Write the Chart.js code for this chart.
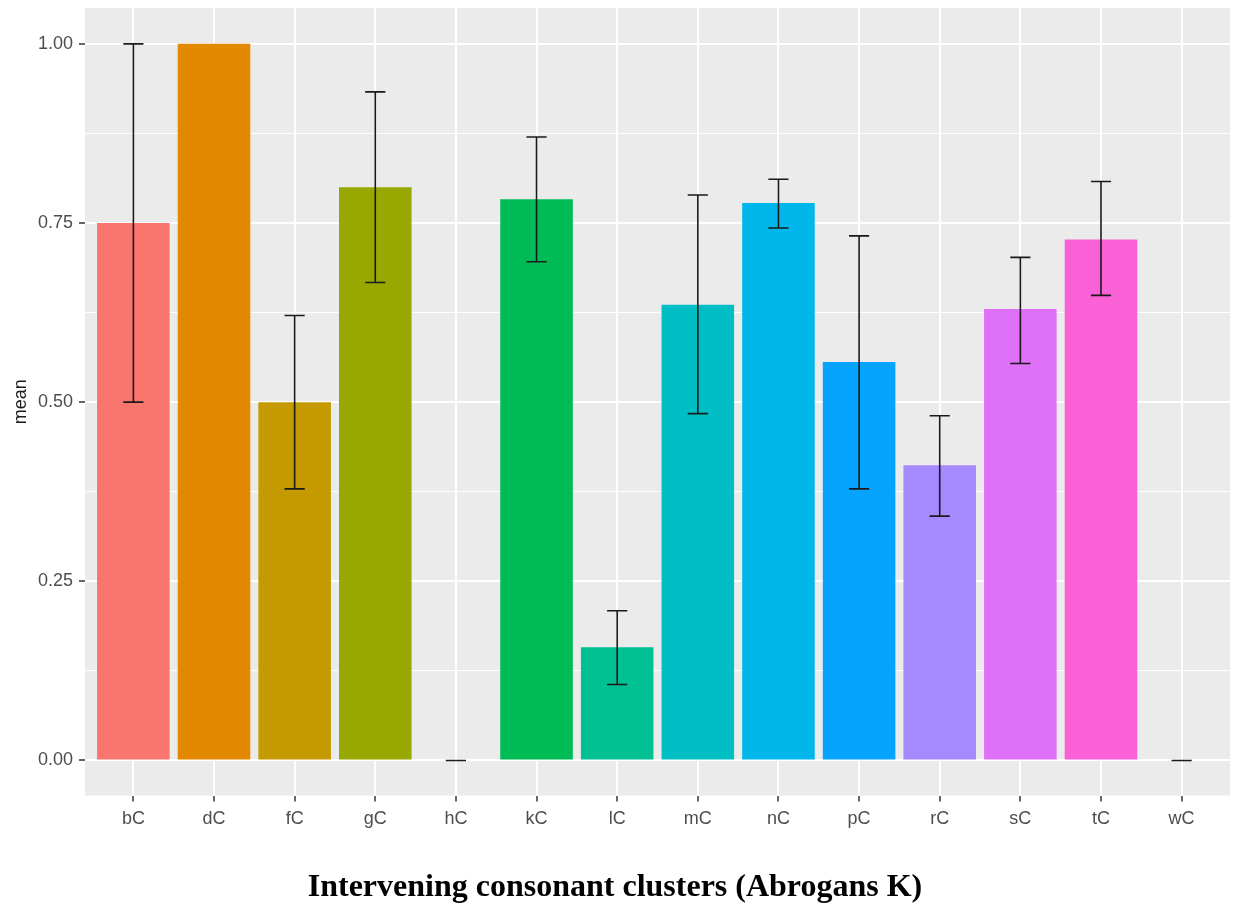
<!DOCTYPE html>
<html>
<head>
<meta charset="utf-8">
<script src="https://cdn.jsdelivr.net/npm/chart.js@4"></script>
<style>
  body { margin: 0; background: #fff; }
  #wrap { width: 1233px; height: 907px; }
</style>
</head>
<body>
<div id="wrap"><canvas id="chart"></canvas></div>
<script>
// clusters and their mean with error range
var clusters = ["bC", "dC", "fC", "gC", "hC", "kC", "lC", "mC", "nC", "pC", "rC", "sC", "tC", "wC"];
var means = [0.75, 1.00, 0.50, 0.80, 0, 0.783, 0.158, 0.636, 0.778, 0.556, 0.412, 0.630, 0.727, 0];
var lower = [0.50, null, 0.379, 0.667, 0, 0.696, 0.106, 0.484, 0.743, 0.379, 0.341, 0.554, 0.649, 0];
var upper = [1.00, null, 0.621, 0.933, 0, 0.870, 0.209, 0.789, 0.811, 0.732, 0.481, 0.702, 0.808, 0];
var colors = ["#F8766D", "#E38900", "#C49A00", "#99A800", "#53B400", "#00BC56", "#00C094",
              "#00BFC4", "#00B6EB", "#06A4FF", "#A58AFF", "#DF70F8", "#FB61D7", "#FF66A8"];
var yTicks = [0, 0.25, 0.5, 0.75, 1];

var points = clusters.map(function (c, i) { return { x: i + 1, y: means[i] }; });

// grey ggplot panel
var panelBg = {
    id: 'panelBg',
    beforeDraw: function (chart) {
        var a = chart.chartArea, ctx = chart.ctx;
        ctx.save();
        ctx.fillStyle = '#EBEBEB';
        ctx.fillRect(a.left, a.top, a.right - a.left, a.bottom - a.top);
        ctx.restore();
    }
};

// error bars from lower / upper arrays
var errorBars = {
    id: 'errorBars',
    afterDatasetsDraw: function (chart) {
        var xs = chart.scales.x, ys = chart.scales.y, ctx = chart.ctx;
        ctx.save();
        ctx.strokeStyle = '#1a1a1a';
        ctx.lineWidth = 1.6;
        for (var i = 0; i < clusters.length; i++) {
            if (lower[i] === null) continue;
            var x = xs.getPixelForValue(i + 1);
            var x0 = xs.getPixelForValue(i + 1 - 0.125);
            var x1 = xs.getPixelForValue(i + 1 + 0.125);
            var yl = ys.getPixelForValue(lower[i]);
            var yu = ys.getPixelForValue(upper[i]);
            ctx.beginPath();
            ctx.moveTo(x, yl); ctx.lineTo(x, yu);
            ctx.moveTo(x0, yl); ctx.lineTo(x1, yl);
            ctx.moveTo(x0, yu); ctx.lineTo(x1, yu);
            ctx.stroke();
        }
        ctx.restore();
    }
};

function isMajor(v) {
    return yTicks.some(function (t) { return Math.abs(t - v) < 1e-6; });
}

new Chart(document.getElementById('chart'), {
    type: 'bar',
    data: {
        datasets: [{
            data: points,
            backgroundColor: colors,
            borderWidth: 0,
            barPercentage: 0.9,
            categoryPercentage: 1.0
        }]
    },
    plugins: [panelBg, errorBars],
    options: {
        responsive: true,
        maintainAspectRatio: false,
        animation: false,
        layout: { padding: { top: 8, right: 3, bottom: 0, left: 0 } },
        plugins: {
            legend: { display: false },
            tooltip: { enabled: false },
            title: {
                display: true,
                position: 'bottom',
                text: 'Intervening consonant clusters (Abrogans K)',
                color: '#000',
                font: { family: 'Liberation Serif', size: 32, weight: 'bold' },
                padding: { top: 35, bottom: 0 }
            }
        },
        scales: {
            x: {
                type: 'linear',
                min: 0.4,
                max: 14.6,
                offset: false,
                afterFit: function (s) { s.height = 38; },
                grid: {
                    offset: false,
                    color: '#FFFFFF',
                    lineWidth: 2,
                    drawTicks: true,
                    tickLength: 6,
                    tickColor: '#333333',
                    tickWidth: 1.5
                },
                border: { display: false },
                ticks: {
                    stepSize: 1,
                    includeBounds: false,
                    autoSkip: false,
                    maxRotation: 0,
                    padding: 7,
                    color: '#4D4D4D',
                    font: { family: 'Liberation Sans', size: 18 },
                    callback: function (v) { return clusters[v - 1]; }
                }
            },
            y: {
                min: -0.049,
                max: 1.05,
                afterFit: function (s) { s.width = 85; s.paddingTop = 0; s.paddingBottom = 0; },
                grid: {
                    color: '#FFFFFF',
                    lineWidth: function (c) { return isMajor(c.tick.value) ? 2 : 1; },
                    drawTicks: true,
                    tickLength: 6,
                    tickColor: function (c) { return isMajor(c.tick.value) ? '#333333' : 'rgba(0,0,0,0)'; },
                    tickWidth: 1.5
                },
                border: { display: false },
                title: {
                    display: true,
                    text: 'mean',
                    color: '#1a1a1a',
                    font: { family: 'Liberation Sans', size: 18 },
                    padding: { top: 10, bottom: 0 }
                },
                ticks: {
                    stepSize: 0.125,
                    includeBounds: false,
                    padding: 6,
                    color: '#4D4D4D',
                    font: { family: 'Liberation Sans', size: 18 },
                    callback: function (v) { return isMajor(v) ? v.toFixed(2) : ''; }
                }
            }
        }
    }
});
</script>
</body>
</html>
